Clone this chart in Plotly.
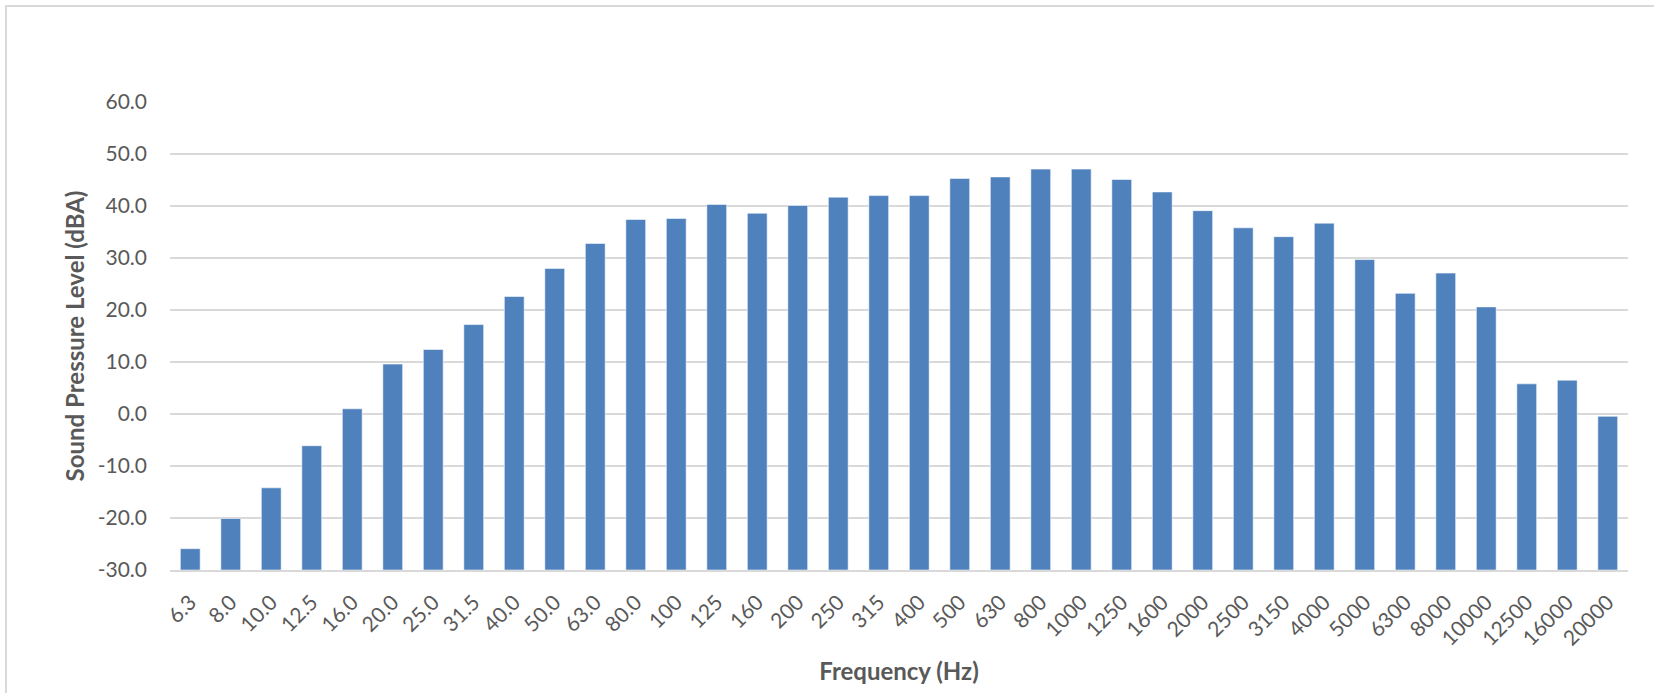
import plotly.graph_objects as go

frequencies = ["6.3", "8.0", "10.0", "12.5", "16.0", "20.0", "25.0", "31.5", "40.0", "50.0",
               "63.0", "80.0", "100", "125", "160", "200", "250", "315", "400", "500",
               "630", "800", "1000", "1250", "1600", "2000", "2500", "3150", "4000", "5000",
               "6300", "8000", "10000", "12500", "16000", "20000"]
spl_dba = [-25.9, -20.1, -14.2, -6.1, 1.0, 9.6, 12.4, 17.2, 22.6, 28.0,
           32.8, 37.4, 37.6, 40.3, 38.6, 40.1, 41.7, 42.0, 42.0, 45.3,
           45.6, 47.1, 47.1, 45.1, 42.7, 39.1, 35.8, 34.1, 36.7, 29.7,
           23.2, 27.1, 20.6, 5.8, 6.5, -0.45]
y_ticks = [-30, -20, -10, 0, 10, 20, 30, 40, 50, 60]
y_tick_labels = ["-30.0", "-20.0", "-10.0", "0.0", "10.0", "20.0", "30.0", "40.0", "50.0", "60.0"]

AXIS_MIN, AXIS_MAX = -30, 60  # Excel draws the bars up from the axis crossing at the minimum

FONT = "Lato, 'Open Sans', sans-serif"
GRAY = "#595959"

fig = go.Figure(go.Bar(
    x=frequencies,
    y=[v - AXIS_MIN for v in spl_dba],
    base=AXIS_MIN,
    customdata=spl_dba,
    hovertemplate="%{x} Hz: %{customdata:.1f} dBA<extra></extra>",
    marker=dict(color="#4f81bd", line=dict(color="rgba(255,255,255,0.55)", width=1)),
))

fig.update_layout(
    width=1654, height=693,
    margin=dict(l=170, r=26, t=102, b=123, autoexpand=False),
    paper_bgcolor="white", plot_bgcolor="white",
    bargap=0.51,
    showlegend=False,
    font=dict(family=FONT, color=GRAY, size=21),
    shapes=[dict(type="rect", xref="paper", yref="paper",
                 x0=(6 - 170) / 1458, x1=1.2,
                 y0=-0.5, y1=1 + 96 / 468,
                 line=dict(color="#d9d9d9", width=2), layer="below")],
)

fig.update_yaxes(
    range=[AXIS_MIN, AXIS_MAX], tickvals=y_ticks, ticktext=y_tick_labels,
    showgrid=True, gridcolor="#d9d9d9", gridwidth=1.5,
    zeroline=False, showline=False,
    ticks="", ticklabelstandoff=22,
    tickfont=dict(size=21, color=GRAY, family=FONT),
    title=dict(text="<b>Sound Pressure Level (dBA)</b>", standoff=6,
               font=dict(size=24, color=GRAY, family=FONT)),
)
fig.update_xaxes(
    type="category", tickangle=-45,
    showline=True, linecolor="#d9d9d9", linewidth=1.5,
    ticks="", ticklabelstandoff=10,
    tickfont=dict(size=21, color=GRAY, family=FONT),
    title=dict(text="<b>Frequency (Hz)</b>", standoff=14,
               font=dict(size=24, color=GRAY, family=FONT)),
)

fig.write_html("out.html", config={"displayModeBar": False},
               post_script="document.body.style.margin='0';")
